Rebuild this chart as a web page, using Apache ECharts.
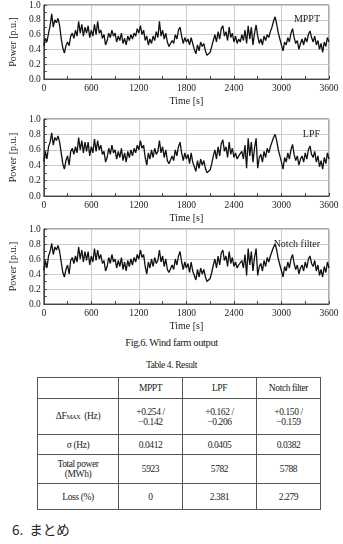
<!DOCTYPE html>
<html>
<head>
<meta charset="utf-8">
<script src="https://cdn.jsdelivr.net/npm/echarts@6/dist/echarts.min.js"></script>
<style>
body{margin:0;background:#fff;width:343px;height:544px;overflow:hidden;position:relative;font-family:"Liberation Serif",serif;color:#222}
#chart{position:absolute;left:0;top:0;width:343px;height:332px}
.cap{position:absolute;left:0;width:343px;text-align:center;font-size:10.5px;letter-spacing:-0.4px}
table{position:absolute;left:37px;top:377px;width:283px;border-collapse:collapse;font-size:9.5px;letter-spacing:-0.4px;table-layout:fixed}
td{border:1px solid #555;text-align:center;padding:0;line-height:10px}
h3{position:absolute;left:12px;top:519px;margin:0;font:400 13.5px "Noto Sans CJK JP",sans-serif;color:#222}
</style>
</head>
<body>
<div id="chart"></div>
<div class="cap" style="top:337px">Fig.6. Wind farm output</div>
<div class="cap" style="top:360px;font-size:9.5px">Table 4. Result</div>
<table>
 <colgroup><col style="width:81px"><col style="width:64px"><col style="width:74px"><col style="width:64px"></colgroup>
 <tr style="height:21px"><td></td><td>MPPT</td><td>LPF</td><td>Notch filter</td></tr>
 <tr style="height:36px"><td>&Delta;F<span style="font-size:6.5px">MAX</span>&nbsp;&nbsp;(Hz)</td><td>+0.254 /<br>&minus;0.142</td><td>+0.162 /<br>&minus;0.206</td><td>+0.150 /<br>&minus;0.159</td></tr>
 <tr style="height:20px"><td>&sigma; (Hz)</td><td>0.0412</td><td>0.0405</td><td>0.0382</td></tr>
 <tr style="height:29px"><td>Total power<br>(MWh)</td><td>5923</td><td>5782</td><td>5788</td></tr>
 <tr style="height:26px"><td>Loss (%)</td><td>0</td><td>2.381</td><td>2.279</td></tr>
</table>
<h3>6.&nbsp; まとめ</h3>
<script>
// sampled every 20 s, 0 .. 3600
const step = 20;
const mppt = [0.45,0.55,0.50,0.62,0.72,0.88,0.70,0.80,0.76,0.82,0.72,0.55,0.42,0.35,0.45,0.50,0.45,0.58,0.62,0.55,
 0.66,0.58,0.78,0.62,0.74,0.58,0.70,0.62,0.72,0.56,0.66,0.58,0.74,0.60,0.78,0.62,0.66,0.55,0.60,0.46,
 0.52,0.62,0.56,0.66,0.58,0.62,0.50,0.58,0.52,0.62,0.48,0.55,0.46,0.58,0.52,0.60,0.54,0.62,0.58,0.68,
 0.62,0.72,0.60,0.66,0.52,0.58,0.46,0.54,0.48,0.58,0.52,0.64,0.56,0.78,0.58,0.66,0.54,0.62,0.50,0.44,
 0.42,0.52,0.48,0.60,0.54,0.66,0.70,0.58,0.48,0.56,0.50,0.54,0.46,0.56,0.48,0.40,0.34,0.46,0.38,0.50,
 0.44,0.48,0.38,0.32,0.30,0.36,0.44,0.52,0.60,0.50,0.64,0.54,0.68,0.72,0.58,0.64,0.52,0.70,0.56,0.62,
 0.50,0.58,0.48,0.54,0.50,0.60,0.52,0.66,0.48,0.72,0.54,0.70,0.46,0.62,0.73,0.58,0.48,0.54,0.46,0.58,
 0.52,0.60,0.56,0.64,0.70,0.78,0.84,0.74,0.62,0.54,0.46,0.38,0.50,0.46,0.56,0.50,0.62,0.68,0.56,0.48,
 0.52,0.40,0.48,0.54,0.46,0.56,0.50,0.60,0.65,0.56,0.50,0.58,0.46,0.52,0.40,0.48,0.36,0.50,0.44,0.56,0.50];
const lpf = [0.45,0.58,0.48,0.64,0.70,0.82,0.66,0.76,0.72,0.78,0.70,0.56,0.42,0.35,0.46,0.52,0.40,0.58,0.62,0.54,
 0.64,0.56,0.76,0.60,0.72,0.56,0.70,0.58,0.70,0.52,0.64,0.56,0.74,0.58,0.72,0.60,0.66,0.54,0.58,0.44,
 0.50,0.62,0.54,0.66,0.56,0.60,0.48,0.58,0.50,0.62,0.46,0.56,0.44,0.58,0.50,0.60,0.52,0.62,0.56,0.66,
 0.60,0.72,0.62,0.66,0.50,0.40,0.56,0.48,0.60,0.50,0.62,0.54,0.58,0.72,0.56,0.64,0.50,0.60,0.46,0.42,
 0.40,0.52,0.46,0.60,0.52,0.64,0.70,0.56,0.46,0.56,0.48,0.54,0.42,0.56,0.44,0.38,0.32,0.46,0.36,0.48,
 0.40,0.46,0.36,0.30,0.28,0.34,0.42,0.52,0.60,0.48,0.64,0.52,0.68,0.73,0.58,0.64,0.50,0.70,0.54,0.62,
 0.50,0.56,0.48,0.52,0.50,0.58,0.48,0.66,0.36,0.75,0.52,0.70,0.44,0.62,0.75,0.36,0.50,0.54,0.44,0.58,
 0.50,0.62,0.56,0.64,0.70,0.76,0.80,0.72,0.60,0.52,0.44,0.35,0.50,0.44,0.56,0.48,0.60,0.67,0.54,0.46,
 0.52,0.40,0.48,0.52,0.44,0.56,0.48,0.60,0.65,0.54,0.50,0.58,0.44,0.52,0.38,0.46,0.35,0.50,0.42,0.56,0.48];
const notch = [0.45,0.58,0.48,0.64,0.70,0.81,0.66,0.76,0.72,0.78,0.70,0.56,0.42,0.36,0.46,0.52,0.40,0.58,0.62,0.54,
 0.64,0.56,0.76,0.60,0.72,0.56,0.70,0.58,0.70,0.52,0.64,0.56,0.74,0.58,0.72,0.60,0.66,0.54,0.58,0.44,
 0.50,0.62,0.54,0.66,0.56,0.60,0.48,0.58,0.50,0.62,0.46,0.56,0.44,0.58,0.50,0.60,0.52,0.62,0.56,0.66,
 0.60,0.72,0.62,0.66,0.50,0.40,0.56,0.48,0.60,0.50,0.62,0.54,0.58,0.72,0.56,0.64,0.50,0.60,0.46,0.42,
 0.40,0.52,0.46,0.60,0.52,0.64,0.70,0.56,0.46,0.56,0.48,0.54,0.42,0.56,0.44,0.38,0.32,0.46,0.36,0.48,
 0.40,0.46,0.36,0.30,0.28,0.34,0.42,0.52,0.60,0.48,0.64,0.52,0.68,0.72,0.58,0.64,0.50,0.70,0.54,0.62,
 0.50,0.56,0.48,0.52,0.50,0.58,0.48,0.66,0.38,0.74,0.52,0.70,0.44,0.62,0.74,0.38,0.50,0.54,0.44,0.58,
 0.50,0.62,0.56,0.64,0.70,0.76,0.80,0.72,0.60,0.52,0.44,0.36,0.50,0.44,0.56,0.48,0.60,0.66,0.54,0.46,
 0.52,0.40,0.48,0.52,0.44,0.56,0.48,0.60,0.64,0.54,0.50,0.58,0.44,0.52,0.38,0.46,0.36,0.50,0.42,0.56,0.48];
const labels = ['MPPT', 'LPF', 'Notch filter'];
const xTicks = [0, 600, 1200, 1800, 2400, 3000, 3600];

const font = 'Liberation Serif';
const tops = [4, 119, 229];
const heights = [75, 77, 76];
const all = [mppt, lpf, notch];

const chart = echarts.init(document.getElementById('chart'));
const opt = {grid: [], xAxis: [], yAxis: [], series: [], title: [], animation: false};
all.forEach((vals, i) => {
  opt.grid.push({left: 30, width: 299, top: tops[i], height: heights[i], show: true, borderColor: '#555', borderWidth: 1});
  opt.xAxis.push({
    type: 'value', gridIndex: i, min: xTicks[0], max: xTicks[xTicks.length - 1], interval: 600,
    name: 'Time [s]', nameLocation: 'middle', nameGap: 17,
    nameTextStyle: {fontFamily: font, fontSize: 10, color: '#222'},
    axisLine: {lineStyle: {color: '#444'}},
    axisTick: {inside: true, length: 3, lineStyle: {color: '#444'}},
    minorTick: {show: true, splitNumber: 2, length: 3, lineStyle: {color: '#444'}},
    splitLine: {show: true, lineStyle: {color: '#ccc', width: 1}},
    axisLabel: {fontFamily: font, fontSize: 9.5, color: '#222', margin: 4, formatter: v => String(v)}
  });
  opt.yAxis.push({
    type: 'value', gridIndex: i, min: 0, max: 1, interval: 0.2,
    name: 'Power [p.u.]', nameLocation: 'middle', nameGap: 21,
    nameTextStyle: {fontFamily: font, fontSize: 10, color: '#222'},
    axisLine: {show: true, lineStyle: {color: '#444'}},
    axisTick: {show: true, inside: true, length: 3, lineStyle: {color: '#444'}},
    minorTick: {show: true, splitNumber: 2, length: 3, lineStyle: {color: '#444'}},
    splitLine: {show: true, lineStyle: {color: '#ccc', width: 1}},
    axisLabel: {fontFamily: font, fontSize: 9.5, color: '#222', margin: 3, formatter: v => v.toFixed(1)}
  });
  opt.series.push({
    type: 'line', xAxisIndex: i, yAxisIndex: i, showSymbol: false, silent: true,
    lineStyle: {color: '#111', width: 1.3},
    data: vals.map((v, k) => [k * step, v])
  });
  opt.title.push({
    text: labels[i], right: 18, top: tops[i] + 5,
    textStyle: {fontFamily: font, fontSize: 10, fontWeight: 'normal', color: '#222'}
  });
});
chart.setOption(opt);
</script>
</body>
</html>
